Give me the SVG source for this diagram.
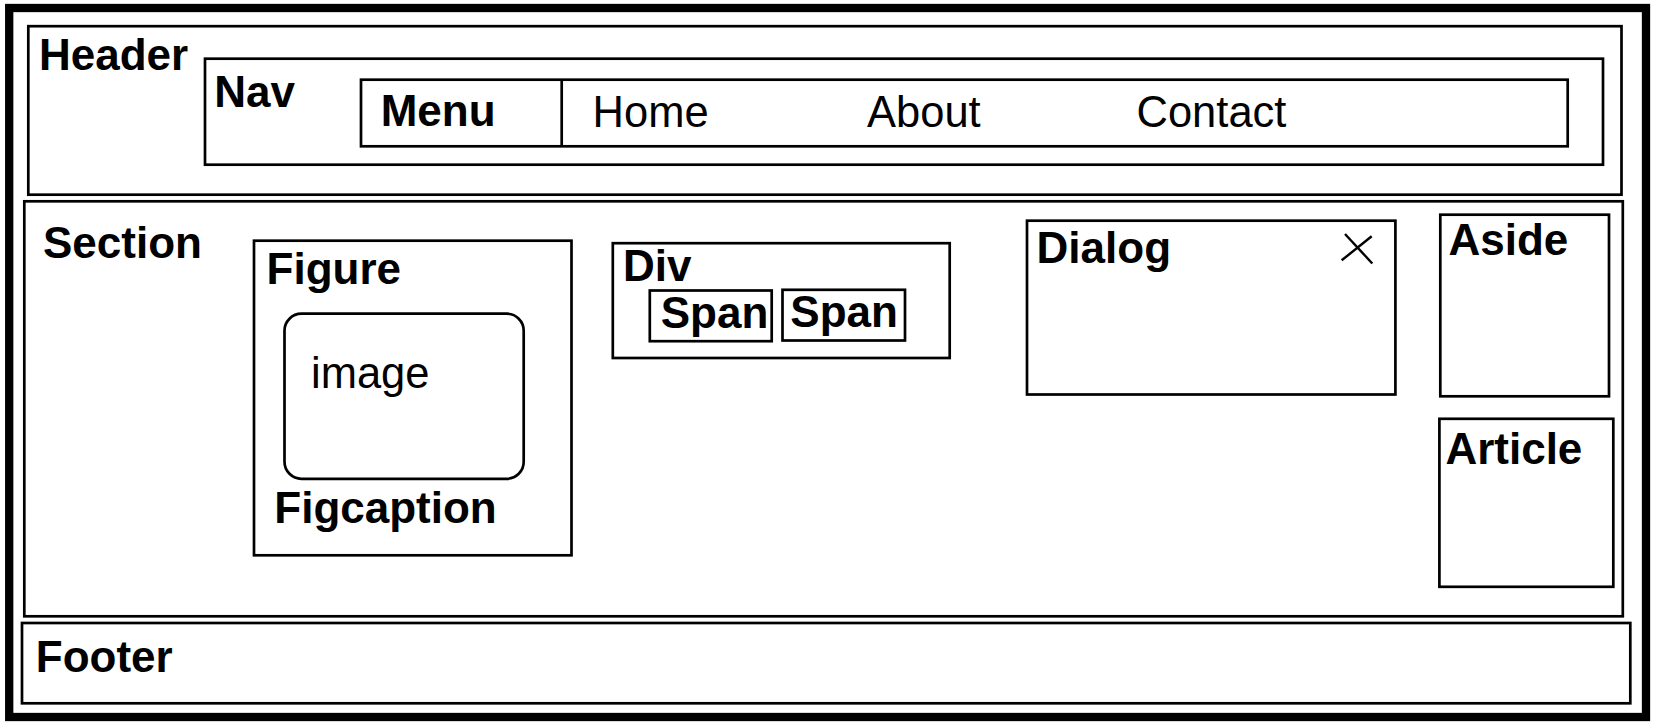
<svg xmlns="http://www.w3.org/2000/svg" width="1653" height="724" viewBox="0 0 1653 724">
<style>
.box{fill:none;stroke:#000;stroke-width:2.7}
.b{font-family:"Liberation Sans",Arial,sans-serif;font-weight:bold;font-size:44px;fill:#000}
.r{font-family:"Liberation Sans",Arial,sans-serif;font-size:43.5px;fill:#000}
</style>
<rect x="0" y="0" width="1653" height="724" fill="#fff"/>
<g id="page"><rect x="9.2" y="8" width="1636.8" height="709" fill="none" stroke="#000" stroke-width="8.3"/></g>
<g id="header">
<rect class="box" x="28.3" y="26.2" width="1593.2" height="168.5"/>
<text class="b" x="39" y="70">Header</text>
</g>
<g id="nav">
<rect class="box" x="205" y="58.7" width="1398" height="106"/>
<text class="b" x="214.3" y="107.3">Nav</text>
</g>
<g id="menu">
<rect class="box" x="361" y="79.7" width="1206.7" height="66.6"/>
<line class="box" x1="561.7" y1="79.7" x2="561.7" y2="146.3"/>
<text class="b" x="380.7" y="126">Menu</text>
<text class="r" x="592.6" y="127.3">Home</text>
<text class="r" x="867" y="127.3">About</text>
<text class="r" x="1136.5" y="126.7">Contact</text>
</g>
<g id="section">
<rect class="box" x="24.3" y="201.3" width="1598.5" height="415"/>
<text class="b" x="43" y="258.3">Section</text>
</g>
<g id="figure">
<rect class="box" x="254" y="240.7" width="317.5" height="314.6"/>
<text class="b" x="266.6" y="284">Figure</text>
<text class="b" x="274.3" y="523.3">Figcaption</text>
</g>
<g id="image">
<rect class="box" x="284.5" y="313.7" width="239.2" height="165.1" rx="17" ry="17"/>
<text class="r" x="311" y="388.3">image</text>
</g>
<g id="div">
<rect class="box" x="612.8" y="243.2" width="336.9" height="114.8"/>
<text class="b" x="623" y="281">Div</text>
</g>
<g id="span1">
<rect class="box" x="649.8" y="290.5" width="121.9" height="50.7"/>
<text class="b" x="660.7" y="328.3">Span</text>
</g>
<g id="span2">
<rect class="box" x="782.5" y="289.8" width="122.5" height="50.7"/>
<text class="b" x="790.3" y="326.7">Span</text>
</g>
<g id="dialog">
<rect class="box" x="1027" y="220.7" width="368.4" height="173.8"/>
<text class="b" x="1036.6" y="262.7">Dialog</text>
<line x1="1345" y1="234" x2="1372.3" y2="263.5" stroke="#000" stroke-width="2.4"/>
<line x1="1371.7" y1="236.3" x2="1341.7" y2="260.3" stroke="#000" stroke-width="2.4"/>
</g>
<g id="aside">
<rect class="box" x="1440.3" y="214.7" width="168.7" height="181.6"/>
<text class="b" x="1448.5" y="255">Aside</text>
</g>
<g id="article">
<rect class="box" x="1439.4" y="418.8" width="173.9" height="168"/>
<text class="b" x="1445.4" y="464">Article</text>
</g>
<g id="footer">
<rect class="box" x="22" y="623" width="1608.3" height="80.3"/>
<text class="b" x="35.8" y="672">Footer</text>
</g>
<g id="connectors"></g>
</svg>
